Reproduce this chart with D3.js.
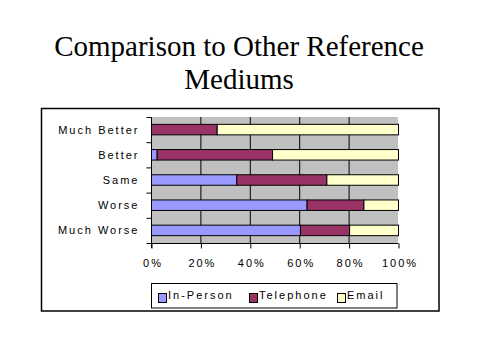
<!DOCTYPE html>
<html>
<head>
<meta charset="utf-8">
<script src="https://cdnjs.cloudflare.com/ajax/libs/d3/7.8.5/d3.min.js"></script>
<style>
  body { margin: 0; background: #fff; }
  svg { display: block; }
  .lbl { font-family: "Liberation Sans", Arial, sans-serif; font-size: 11px; letter-spacing: 2px; fill: #000; }
</style>
</head>
<body>
<div id="chart"></div>
<script>
// categories top to bottom, values are percent shares
var categories = ['Much Better', 'Better', 'Same', 'Worse', 'Much Worse'];
var seriesNames = ['In-Person', 'Telephone', 'Email'];
var inPerson = [0, 2.3, 34.5, 63, 60.3];
var telephone = [26.6, 46.7, 36.5, 23, 19.9];
var email = [73.4, 51, 29, 14, 19.8];
var xTicks = [0, 20, 40, 60, 80, 100];
var colors = ['#9999FF', '#993366', '#FFFFCC'];

var width = 480, height = 360;
var plot = {left: 151, right: 398, top: 117, bottom: 243};

var svg = d3.select('#chart').append('svg')
  .attr('width', width)
  .attr('height', height);

// title
var title = svg.append('text')
  .attr('text-anchor', 'middle')
  .attr('font-family', '"Liberation Serif", "Times New Roman", serif')
  .attr('font-size', 29);
title.append('tspan').attr('x', 239).attr('y', 56).text('Comparison to Other Reference');
title.append('tspan').attr('x', 239).attr('y', 89).text('Mediums');

// chart frame
svg.append('rect')
  .attr('x', 41.5).attr('y', 108.5)
  .attr('width', 397.5).attr('height', 202.5)
  .attr('fill', '#fff')
  .attr('stroke', '#000')
  .attr('stroke-width', 1.5);

var x = d3.scaleLinear().domain([0, 100]).range([plot.left, plot.right]);
var y = d3.scaleBand().domain(categories).range([plot.top, plot.bottom]).padding(0);

// plot background
svg.append('rect')
  .attr('x', plot.left).attr('y', plot.top)
  .attr('width', plot.right - plot.left).attr('height', plot.bottom - plot.top)
  .attr('fill', '#C0C0C0');

// vertical gridlines
svg.append('g').selectAll('line')
  .data(xTicks.slice(1, -1))
  .join('line')
  .attr('x1', function(d) { return x(d) + 0.5; })
  .attr('x2', function(d) { return x(d) + 0.5; })
  .attr('y1', plot.top).attr('y2', plot.bottom)
  .attr('stroke', '#000')
  .attr('stroke-width', 1);

// stacked bars
var rows = categories.map(function(c, i) {
  return {cat: c, vals: [inPerson[i], telephone[i], email[i]]};
});
var barH = 10.5;
rows.forEach(function(r) {
  var acc = 0;
  var cy = y(r.cat) + y.bandwidth() / 2;
  r.vals.forEach(function(v, k) {
    if (v > 0) {
      svg.append('rect')
        .attr('x', x(acc) + 0.5)
        .attr('y', cy - barH / 2)
        .attr('width', x(acc + v) - x(acc))
        .attr('height', barH)
        .attr('fill', colors[k])
        .attr('stroke', '#000')
        .attr('stroke-width', 1);
    }
    acc += v;
  });
});

// y axis
var yg = svg.append('g').attr('transform', 'translate(' + (plot.left + 0.5) + ',0)');
yg.append('line')
  .attr('y1', plot.top).attr('y2', plot.bottom + 5)
  .attr('stroke', '#000');
yg.selectAll('line.tk')
  .data(d3.range(categories.length + 1))
  .join('line')
  .attr('class', 'tk')
  .attr('x1', -5).attr('x2', 0)
  .attr('y1', function(i) { return plot.top + i * y.step() + 0.5; })
  .attr('y2', function(i) { return plot.top + i * y.step() + 0.5; })
  .attr('stroke', '#000');
yg.selectAll('text.cat')
  .data(categories)
  .join('text')
  .attr('class', 'lbl cat')
  .attr('text-anchor', 'end')
  .attr('x', -12)
  .attr('y', function(d) { return y(d) + y.bandwidth() / 2 + 4; })
  .text(function(d) { return d; });

// x axis
var xAxis = d3.axisBottom(x).tickValues(xTicks).tickSize(5)
  .tickFormat(function(d) { return d + '%'; });
var xg = svg.append('g')
  .attr('transform', 'translate(0.5,' + (plot.bottom + 0.5) + ')')
  .call(xAxis);
xg.select('.domain').attr('stroke', '#000').attr('d', 'M' + (plot.left) + ',0H' + plot.right);
xg.selectAll('.tick line').attr('stroke', '#000');
xg.selectAll('.tick text')
  .attr('class', 'lbl')
  .attr('font-size', null)
  .attr('font-family', null)
  .attr('y', 23.5)
  .attr('dy', null)
  .attr('dx', 1);

// legend
var lg = svg.append('g');
lg.append('rect')
  .attr('x', 151.5).attr('y', 283.5)
  .attr('width', 245.5).attr('height', 24.5)
  .attr('fill', '#fff').attr('stroke', '#000').attr('stroke-width', 1);
var legendX = [158, 249, 337];
seriesNames.forEach(function(n, k) {
  lg.append('rect')
    .attr('x', legendX[k] + 0.5).attr('y', 293.5)
    .attr('width', 8).attr('height', 9)
    .attr('fill', colors[k]).attr('stroke', '#000');
  lg.append('text')
    .attr('class', 'lbl')
    .attr('x', legendX[k] + 10)
    .attr('y', 299)
    .text(n);
});
</script>
</body>
</html>
